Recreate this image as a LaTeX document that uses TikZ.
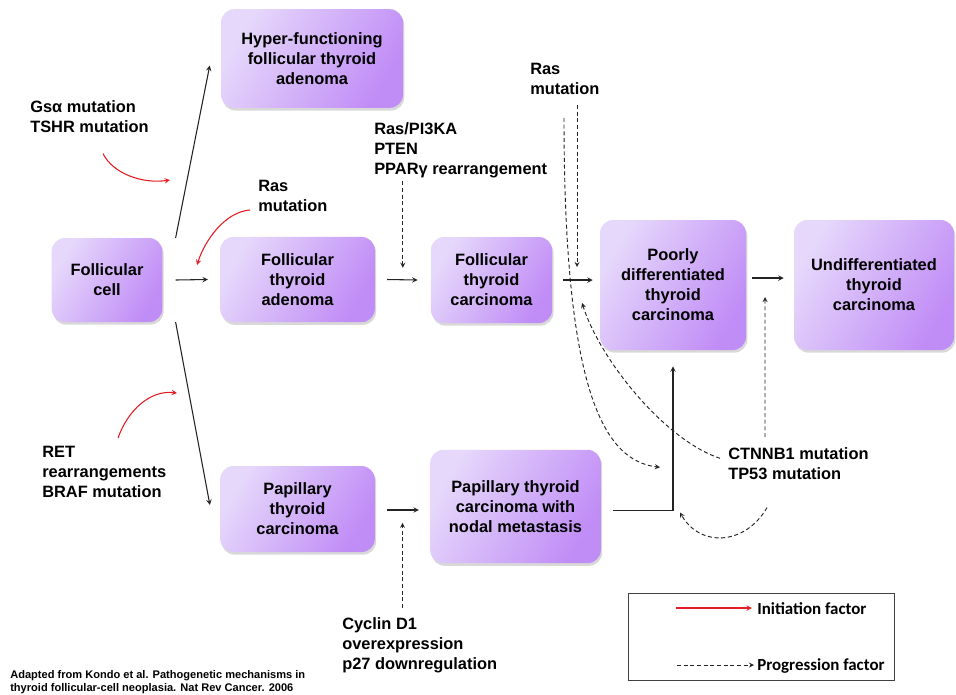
\documentclass[tikz,border=0pt]{standalone}
\usepackage{fontspec}
\setmainfont{Liberation Sans}
\newfontfamily\legendfont{Carlito}
\usetikzlibrary{arrows,arrows.meta}
\usetikzlibrary{calc,shadows}
\definecolor{boxlight}{RGB}{230,216,251}
\definecolor{boxdark}{RGB}{192,140,246}
\definecolor{initred}{RGB}{228,28,36}
\definecolor{linegray}{RGB}{35,35,35}

\begin{document}
\begin{tikzpicture}[x=0.75pt, y=-0.75pt, font=\fontsize{12.3}{15}\selectfont\bfseries,
    stage/.style={rounded corners=10pt, align=center, inner sep=0pt,
        top color=boxlight, bottom color=boxdark, shading angle=60,
        drop shadow={shadow xshift=1pt, shadow yshift=-2pt, opacity=0.3}},
    factor/.style={anchor=north west, align=left, inner sep=0pt},
    arr/.style={linegray, line width=0.8pt, -stealth},
    prog/.style={linegray, line width=0.7pt, densely dashed, -stealth},
    init/.style={initred, line width=0.8pt, -stealth}]

    \path[use as bounding box, fill=white] (0,0) rectangle (956,694);

    % stages
    \node[stage, minimum width=83pt, minimum height=63pt] (cell) at (107,280) {Follicular\\cell};
    \node[stage, minimum width=136.5pt, minimum height=74pt] (hyper) at (312,58.5) {Hyper-functioning\\follicular thyroid\\adenoma};
    \node[stage, minimum width=116pt, minimum height=64pt] (fta) at (297.5,279.5) {Follicular\\thyroid\\adenoma};
    \node[stage, minimum width=91pt, minimum height=64.5pt] (ftc) at (491.5,280) {Follicular\\thyroid\\carcinoma};
    \node[stage, minimum width=109.5pt, minimum height=97.5pt] (pdtc) at (673,285) {Poorly\\differentiated\\thyroid\\carcinoma};
    \node[stage, minimum width=120pt, minimum height=97.5pt] (utc) at (874,285) {Undifferentiated\\thyroid\\carcinoma};
    \node[stage, minimum width=116pt, minimum height=64.5pt] (ptc) at (297.5,509) {Papillary\\thyroid\\carcinoma};
    \node[stage, minimum width=128pt, minimum height=85pt] (ptcnm) at (515.5,506.5) {Papillary thyroid\\carcinoma with\\nodal metastasis};

    % factors
    \node[factor] (gsa) at (30,100) {Gsα mutation\\TSHR mutation};
    \node[factor] (ras1) at (258,180) {Ras\\mutation};
    \node[factor] (ppar) at (374,122) {Ras/PI3KA\\PTEN\\PPARγ rearrangement};
    \node[factor] (ras2) at (530,63) {Ras\\mutation};
    \node[factor] (ret) at (42,446) {RET\\rearrangements\\BRAF mutation};
    \node[factor] (ctnnb) at (728,447) {CTNNB1 mutation\\TP53 mutation};
    \node[factor] (cyclin) at (342,617) {Cyclin D1\\overexpression\\p27 downregulation};
    \node[factor, font=\fontsize{8.3}{9.6}\selectfont\bfseries] (ref) at (10,670) {Adapted from Kondo et al. Pathogenetic mechanisms in\\thyroid follicular-cell neoplasia. Nat Rev Cancer. 2006};

    % progression steps
    \draw[arr] ($(cell.east)+(13,-42)$) -- ($(hyper.west)+(-11,7)$);
    \draw[arr] ($(cell.east)+(13,0)$) -- ($(fta.west)+(-12,0)$);
    \draw[arr] ($(cell.east)+(13,42)$) -- ($(ptc.west)+(-10,-4)$);
    \draw[arr] ($(fta.east)+(12,0)$) -- ($(ftc.west)+(-13,0)$);
    \draw[arr] ($(ftc.east)+(11,0)$) -- ($(ftc.east-|pdtc.west)+(-7,0)$);
    \draw[arr] ($(pdtc.east)+(6,-7)$) -- ($(utc.west)+(-10,-7)$);
    \draw[arr] ($(ptc.east)+(12,1)$) -- ($(ptcnm.west)+(-11,3.5)$);
    \draw[arr] ($(ptcnm.east)+(12,4)$) -| ($(pdtc.south)+(0,16)$);
    \coordinate (bend) at ($(ptcnm.east-|pdtc.south)+(0,4)$);

    % initiation factors
    \coordinate (gsaTip) at (170,180);
    \coordinate (rasTip) at (197,265);
    \coordinate (retTip) at (177,393);
    \draw[init] ($(gsa.south west)+(73,21)$) .. controls +(10,20) and +(-28,4) .. (gsaTip);
    \draw[init] ($(ras1.south west)+(-8,-2)$) .. controls +(-25,2) and +(8,-25) .. (rasTip);
    \draw[init] ($(ret.north west)+(76,-8)$) .. controls +(10,-28) and +(-27,-3) .. (retTip);

    % progression factors
    \coordinate (tipA) at ($(fta.east)!.5!(ftc.west)+(0,-12)$);
    \coordinate (tipB) at ($(ftc.east)!.5!(ftc.east-|pdtc.west)+(1,-13)$);
    \coordinate (tipD) at ($(ptc.east)!.5!(ptcnm.west)+(0,15)$);
    \draw[prog, shorten <=2.5pt] (tipA |- ppar.south) -- (tipA);
    \draw[prog, shorten <=7.5pt] (tipB |- ras2.south) -- (tipB);
    \draw[prog] ($(ras2.south west)+(34,23)$) .. controls +(0,262) and +(-60,-7) .. ($(pdtc.south)+(-13,117)$);
    \draw[prog] ($(ctnnb.west)+(-8,-5)$) .. controls +(-55,-18) and +(18,57) .. ($(tipB)+(5,36)$);
    \draw[prog] ($(ctnnb.north west)+(37,-10)$) -- ($(pdtc.east)!.5!(utc.west)+(-5,12)$);
    \draw[prog] ($(ctnnb.south west)+(39,28)$) .. controls +(-22,38) and +(20,35) .. ($(bend)+(7,2)$);
    \draw[prog] ($(tipD |- cyclin.north)+(0,-9)$) -- (tipD);

    % legend
    \node[draw=black!75, line width=0.6pt, minimum width=199.5pt, minimum height=65pt] (legend) at (761,637) {};
    \node[anchor=west, inner sep=0pt, font=\legendfont\fontsize{12.7}{15}\selectfont\bfseries] (initlbl) at (757,609) {Initiation factor};
    \node[anchor=west, inner sep=0pt, font=\legendfont\fontsize{12.7}{15}\selectfont\bfseries] (proglbl) at (757,666) {Progression factor};
    \draw[init] ($(initlbl.west)+(-81,-1)$) -- ($(initlbl.west)+(-5,-1)$);
    \draw[prog] ($(proglbl.west)+(-80,-1)$) -- ($(proglbl.west)+(-3,-1)$);

\end{tikzpicture}
\end{document}
